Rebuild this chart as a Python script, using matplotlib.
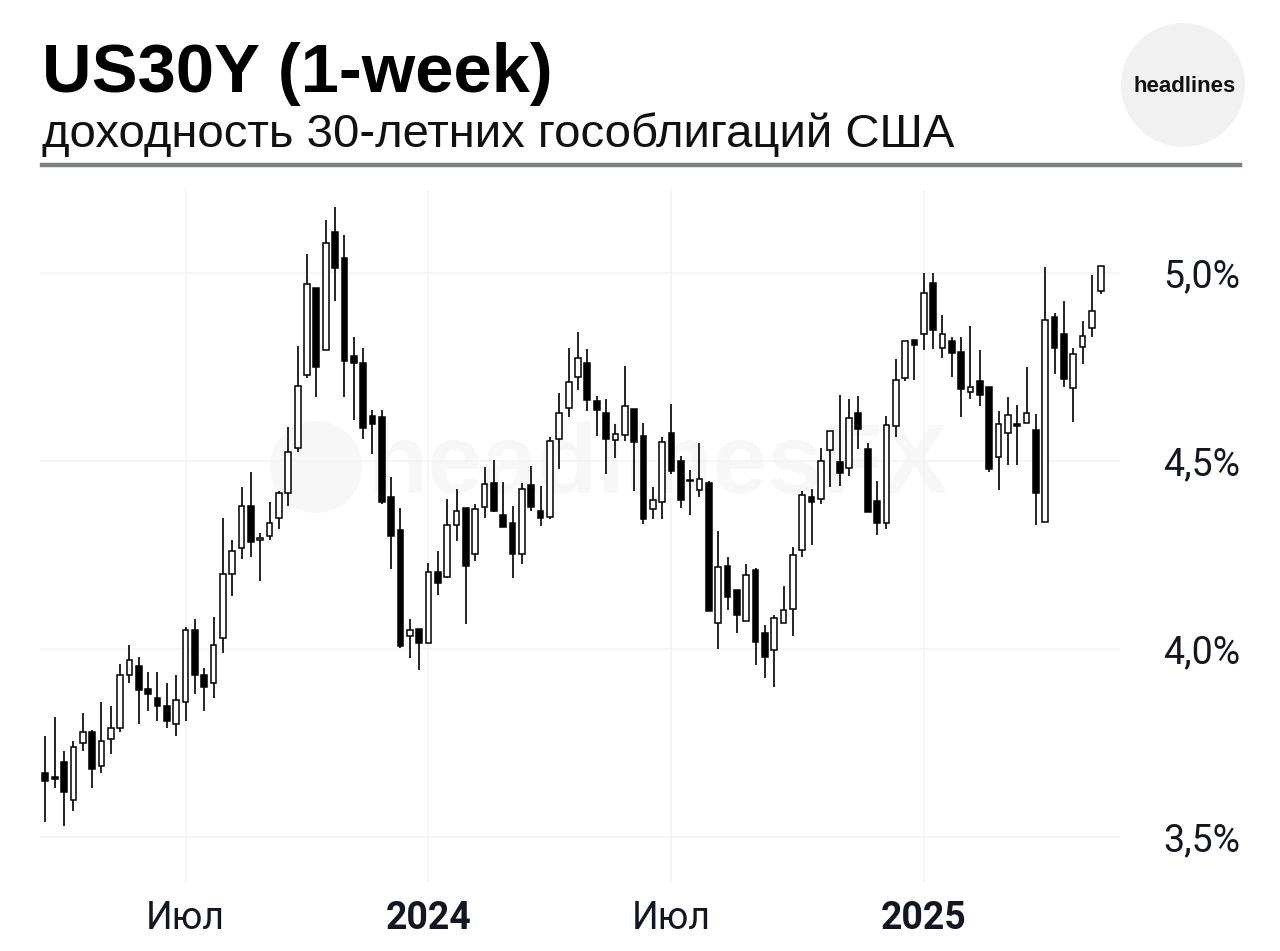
import matplotlib
matplotlib.use("Agg")
import matplotlib.pyplot as plt
import matplotlib.dates as mdates
from matplotlib.patches import Ellipse
from matplotlib.lines import Line2D
import pandas as pd

# weekly candles, US 30Y yield (%)
dates = pd.date_range("2023-03-20", periods=114, freq="W-MON")
opens = [3.67, 3.66, 3.70, 3.60, 3.75, 3.78, 3.69, 3.76, 3.79, 3.93,
         3.955, 3.895, 3.87, 3.85, 3.80, 3.86, 4.05, 3.93, 3.91, 4.03,
         4.20, 4.27, 4.38, 4.29, 4.30, 4.35, 4.415, 4.536, 4.73, 4.96,
         4.795, 5.11, 5.04, 4.78, 4.76, 4.62, 4.617, 4.405, 4.318, 4.035,
         4.053, 4.015, 4.204, 4.192, 4.33, 4.374, 4.253, 4.378, 4.443, 4.356,
         4.336, 4.252, 4.436, 4.368, 4.352, 4.56, 4.64, 4.724, 4.76, 4.66,
         4.628, 4.556, 4.569, 4.638, 4.566, 4.372, 4.39, 4.574, 4.50, 4.45,
         4.423, 4.442, 4.07, 4.222, 4.156, 4.075, 4.21, 4.043, 3.997, 4.07,
         4.106, 4.263, 4.404, 4.40, 4.53, 4.497, 4.483, 4.628, 4.533, 4.394,
         4.336, 4.593, 4.721, 4.821, 4.838, 4.974, 4.801, 4.82, 4.789, 4.683,
         4.713, 4.698, 4.511, 4.574, 4.60, 4.602, 4.584, 4.339, 4.884, 4.838,
         4.695, 4.804, 4.853, 4.953]
highs = [3.77, 3.82, 3.73, 3.755, 3.83, 3.785, 3.86, 3.85, 3.96, 4.01,
         3.98, 3.94, 3.94, 3.91, 3.93, 4.06, 4.08, 3.95, 4.085, 4.35,
         4.29, 4.43, 4.47, 4.31, 4.39, 4.42, 4.59, 4.805, 5.05, 4.96,
         5.14, 5.175, 5.10, 4.83, 4.80, 4.635, 4.635, 4.457, 4.374, 4.08,
         4.053, 4.23, 4.26, 4.40, 4.425, 4.374, 4.385, 4.485, 4.503, 4.445,
         4.38, 4.443, 4.487, 4.434, 4.565, 4.68, 4.80, 4.844, 4.797, 4.673,
         4.665, 4.598, 4.753, 4.638, 4.601, 4.432, 4.563, 4.652, 4.514, 4.476,
         4.549, 4.448, 4.314, 4.245, 4.156, 4.226, 4.217, 4.063, 4.09, 4.168,
         4.272, 4.42, 4.426, 4.536, 4.58, 4.675, 4.664, 4.674, 4.547, 4.448,
         4.62, 4.771, 4.82, 4.821, 5.0, 5.0, 4.888, 4.83, 4.83, 4.859,
         4.795, 4.698, 4.634, 4.671, 4.649, 4.751, 4.624, 5.017, 4.894, 4.926,
         4.80, 4.872, 4.996, 5.019]
lows = [3.54, 3.63, 3.53, 3.57, 3.73, 3.63, 3.67, 3.72, 3.78, 3.91,
        3.80, 3.835, 3.81, 3.79, 3.77, 3.81, 3.88, 3.835, 3.87, 3.99,
        4.14, 4.24, 4.245, 4.18, 4.29, 4.32, 4.38, 4.525, 4.72, 4.67,
        4.795, 4.925, 4.67, 4.61, 4.56, 4.52, 4.385, 4.213, 4.003, 3.976,
        3.944, 4.015, 4.144, 4.19, 4.288, 4.067, 4.235, 4.35, 4.365, 4.325,
        4.19, 4.226, 4.368, 4.327, 4.345, 4.48, 4.618, 4.69, 4.633, 4.566,
        4.467, 4.507, 4.554, 4.42, 4.333, 4.345, 4.345, 4.465, 4.376, 4.356,
        4.405, 4.102, 3.999, 4.105, 4.042, 4.075, 3.957, 3.922, 3.90, 4.07,
        4.034, 4.245, 4.278, 4.386, 4.43, 4.434, 4.46, 4.532, 4.364, 4.304,
        4.32, 4.565, 4.714, 4.717, 4.795, 4.797, 4.773, 4.724, 4.618, 4.664,
        4.646, 4.472, 4.423, 4.489, 4.489, 4.602, 4.33, 4.339, 4.731, 4.698,
        4.603, 4.757, 4.829, 4.944]
closes = [3.65, 3.655, 3.62, 3.74, 3.78, 3.68, 3.755, 3.79, 3.93, 3.97,
          3.89, 3.88, 3.85, 3.81, 3.865, 4.05, 3.93, 3.90, 4.01, 4.20,
          4.26, 4.38, 4.285, 4.295, 4.335, 4.415, 4.525, 4.70, 4.97, 4.75,
          5.08, 5.014, 4.765, 4.76, 4.587, 4.60, 4.39, 4.30, 4.008, 4.052,
          4.015, 4.204, 4.176, 4.33, 4.368, 4.22, 4.372, 4.438, 4.367, 4.325,
          4.253, 4.427, 4.378, 4.348, 4.553, 4.627, 4.71, 4.773, 4.662, 4.637,
          4.558, 4.571, 4.647, 4.551, 4.346, 4.396, 4.551, 4.475, 4.396, 4.447,
          4.452, 4.102, 4.218, 4.139, 4.09, 4.197, 4.018, 3.98, 4.084, 4.104,
          4.251, 4.411, 4.39, 4.50, 4.58, 4.468, 4.615, 4.585, 4.364, 4.336,
          4.597, 4.717, 4.82, 4.809, 4.946, 4.85, 4.838, 4.788, 4.691, 4.698,
          4.675, 4.478, 4.60, 4.622, 4.593, 4.627, 4.414, 4.875, 4.80, 4.718,
          4.784, 4.832, 4.90, 5.019]

tick_dates = ["2023-07-03", "2024-01-01", "2024-07-01", "2025-01-06"]
tick_labels = ["Июл", "2024", "Июл", "2025"]
y_ticks = [3.5, 4.0, 4.5, 5.0]
y_labels = ["3,5%", "4,0%", "4,5%", "5,0%"]

fig = plt.figure(figsize=(12.8, 9.51), dpi=100)
ax = fig.add_axes([40 / 1280, 68 / 951, 1080 / 1280, 693 / 951])

x = mdates.date2num(dates)
body_w = 4.3

# watermark
ax.add_patch(Ellipse((0.2556, 0.6003), 92 / 1080, 92 / 693, transform=ax.transAxes,
                     facecolor="#f7f7f7", edgecolor="none", zorder=0))
ax.text(0.572, 0.599, "headlinesFX", transform=ax.transAxes, ha="center", va="center",
        fontsize=71, fontweight="bold", color="#f7f7f7", family="Liberation Sans", zorder=0)

# Kerzen
ax.vlines(x, lows, highs, color="black", linewidth=1.2, zorder=2)
bottoms = [min(o, c) for o, c in zip(opens, closes)]
heights = [max(abs(c - o), 0.004) for o, c in zip(opens, closes)]
colors = ["white" if c >= o else "black" for o, c in zip(opens, closes)]
ax.bar(x, heights, bottom=bottoms, width=body_w, color=colors,
       edgecolor="black", linewidth=1.1, zorder=3)

ax.set_xlim(x[0] - 4, x[-1] + 14)
ax.set_ylim(3.378, 5.221)

for s in ax.spines.values():
    s.set_visible(False)

ax.set_xticks(mdates.date2num(pd.to_datetime(tick_dates)))
ax.set_xticklabels(tick_labels)
for lab, t in zip(ax.get_xticklabels(), tick_labels):
    lab.set_fontfamily("Roboto")
    lab.set_fontsize(27)
    lab.set_color("#131722")
    if t.isdigit():
        lab.set_fontweight("bold")

ax.yaxis.tick_right()
ax.set_yticks(y_ticks)
ax.set_yticklabels(y_labels, fontsize=27, color="#131722", family="Roboto")
ax.tick_params(axis="both", length=0)
ax.tick_params(axis="y", pad=31)
ax.tick_params(axis="x", pad=12)
ax.grid(True, color="#f2f3f5", linewidth=1.2, zorder=0)
ax.set_axisbelow(True)

# Kopfzeile
fig.text(42 / 1280, 1 - 92 / 951, "US30Y (1-week)", fontsize=49.5, fontweight="bold",
         family="Liberation Sans", va="baseline", ha="left", color="black")
fig.text(42 / 1280, 1 - 147 / 951, "доходность 30-летних гособлигаций США", fontsize=34,
         family="Liberation Sans", va="baseline", ha="left", color="#111111")
fig.add_artist(Line2D([42 / 1280, 1240 / 1280], [1 - 165 / 951, 1 - 165 / 951],
                      color="#7b7f87", linewidth=3.2, transform=fig.transFigure))
fig.add_artist(Ellipse((1183 / 1280, 1 - 85 / 951), 124 / 1280, 124 / 951,
                       transform=fig.transFigure, facecolor="#f1f1f1", edgecolor="none"))
fig.text(1185 / 1280, 1 - 86 / 951, "headlines", fontsize=16, fontweight="bold",
         family="Liberation Sans", ha="center", va="center", color="#111111")

fig.savefig("out.png", dpi=100, facecolor="white")
